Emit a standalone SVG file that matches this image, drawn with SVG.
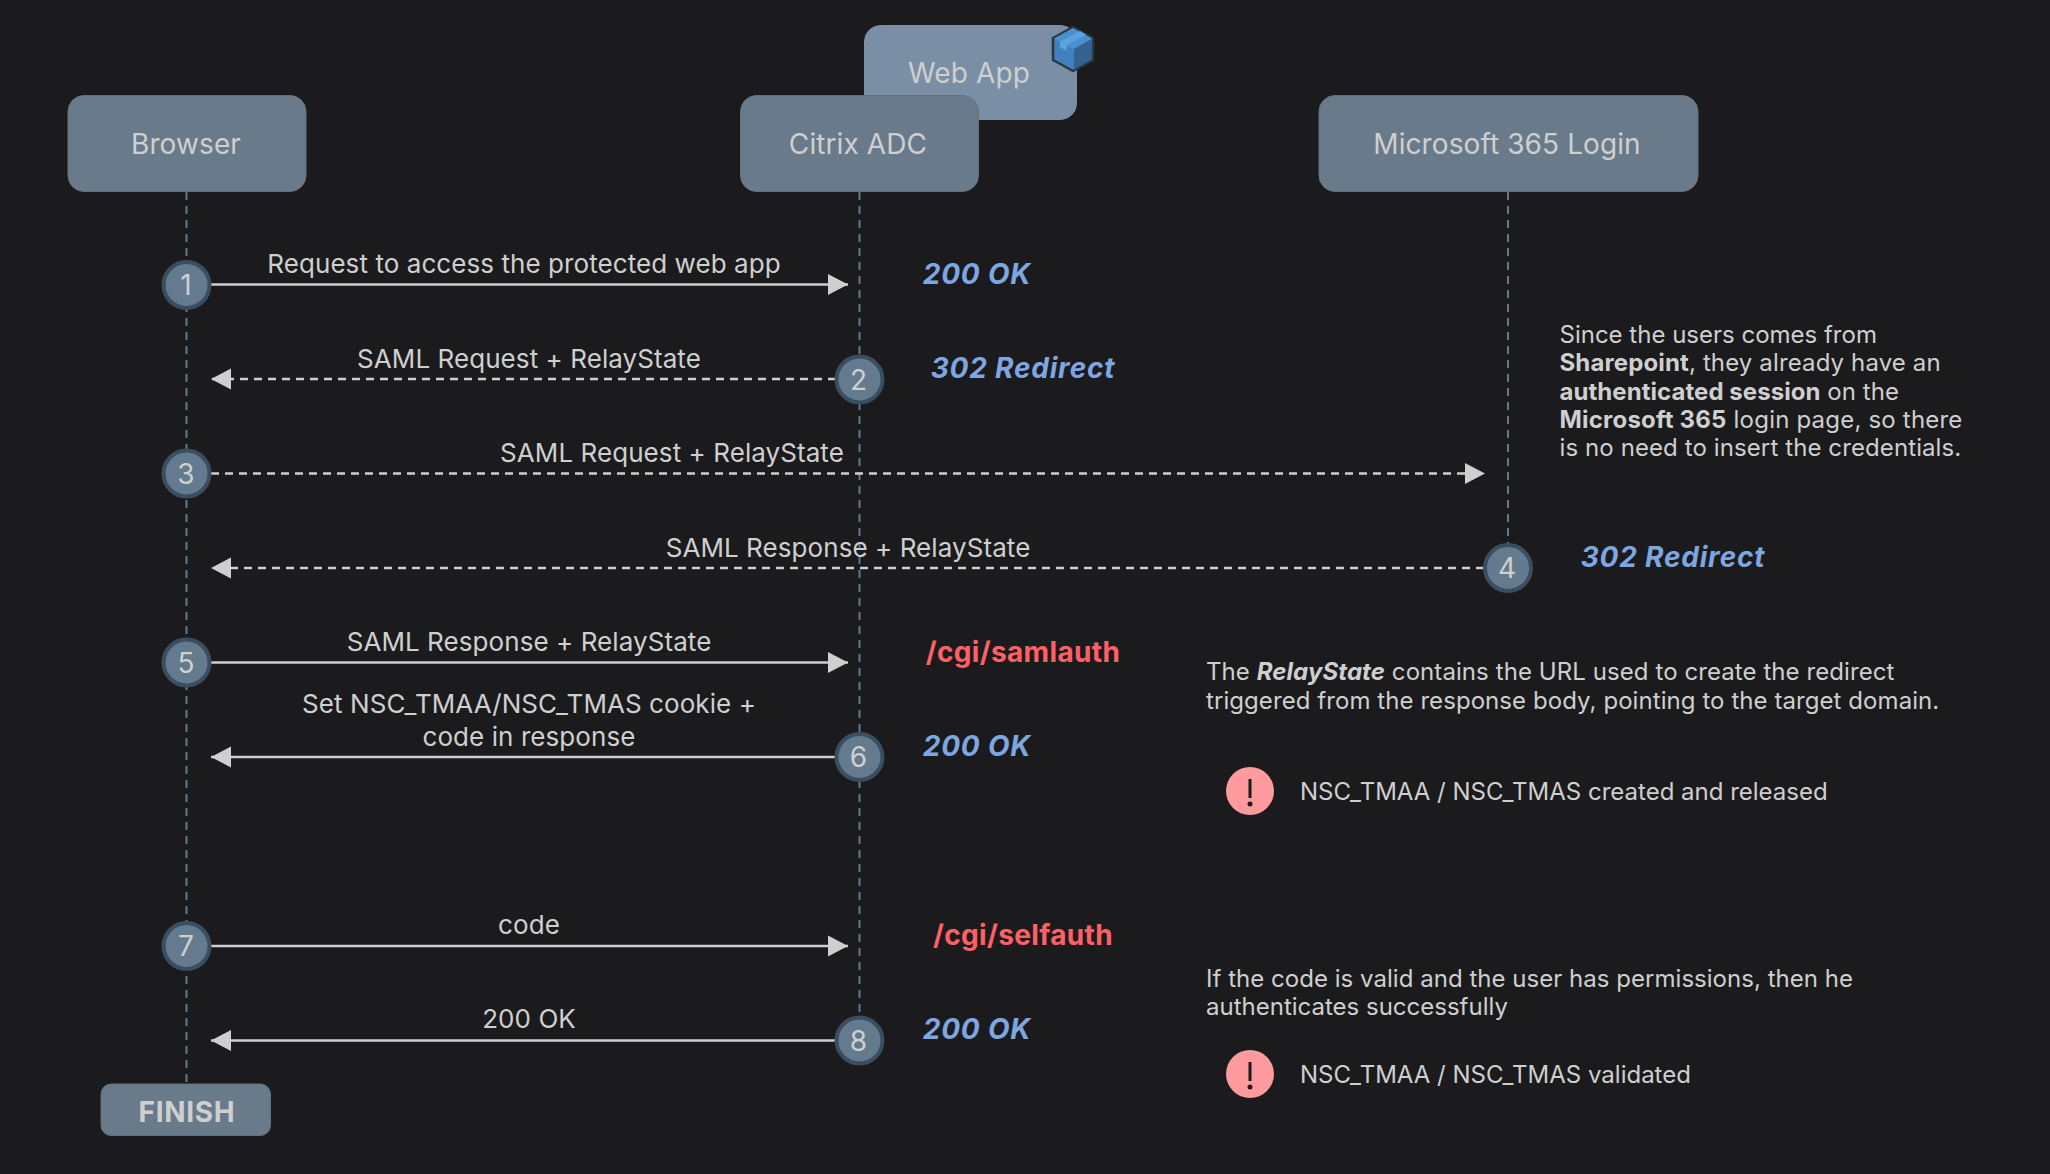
<svg xmlns="http://www.w3.org/2000/svg" width="2050" height="1174" viewBox="0 0 2050 1174">
<style>
text{font-family:Inter,"Liberation Sans",sans-serif;fill:#cfcfcf}
.box{fill:#697a8b;stroke:#61727f;stroke-width:1}
.h{font-size:28px;text-anchor:middle;letter-spacing:.1px}
.l{font-size:26px;text-anchor:middle;letter-spacing:.07px}
.n{font-size:28px;text-anchor:middle}
.life{stroke:#5f7890;stroke-width:2;stroke-dasharray:8 6;fill:none}
.c{stroke:#cfcfcf;stroke-width:2.5;fill:none}
.d{stroke-dasharray:8 6}
.dot{fill:#647a8e;stroke:#3a4e60;stroke-width:4}
.st{font-size:28px;font-weight:700;font-style:italic;fill:#7ea6e0;text-anchor:middle;letter-spacing:.8px}
.re{font-size:28px;font-weight:700;fill:#ff6066;text-anchor:middle;letter-spacing:.35px}
.p{font-size:24px}
.w{fill:#ff9a9f}
</style>
<defs>
<marker id="a" markerUnits="userSpaceOnUse" markerWidth="22" markerHeight="22" refX="20" refY="11" orient="auto"><path d="M0 0.5L20 11L0 21.5Z" fill="#cfcfcf"/></marker>
</defs>
<rect width="2050" height="1174" fill="#1b1b1e"/>
<g id="connectors">
<path class="life" d="M186.500 192V1084"/>
<path class="life" d="M859.500 192V1018"/>
<path class="life" d="M1508 192V545"/>
<path class="c" d="M211 284.500H848" marker-end="url(#a)"/>
<path class="c d" d="M836 379H211" marker-end="url(#a)"/>
<path class="c d" d="M211 473.500H1485" marker-end="url(#a)"/>
<path class="c d" d="M1484 568H211" marker-end="url(#a)"/>
<path class="c" d="M211 662.500H848" marker-end="url(#a)"/>
<path class="c" d="M836 757H211" marker-end="url(#a)"/>
<path class="c" d="M211 946H848" marker-end="url(#a)"/>
<path class="c" d="M836 1040.500H211" marker-end="url(#a)"/>
<text class="l" x="524" y="273">Request to access the protected web app</text>
<text class="l" x="529" y="368">SAML Request + RelayState</text>
<text class="l" x="672" y="462">SAML Request + RelayState</text>
<text class="l" x="848" y="556.500">SAML Response + RelayState</text>
<text class="l" x="529" y="651">SAML Response + RelayState</text>
<text class="l" x="529" y="713">Set NSC_TMAA/NSC_TMAS cookie +</text>
<text class="l" x="529" y="745.500">code in response</text>
<text class="l" x="529" y="934">code</text>
<text class="l" x="529" y="1028">200 OK</text>
</g>
<g id="webapp">
<rect class="box" style="fill:#7a8fa5;stroke:#7a8fa5" x="864.500" y="25.500" width="212" height="94" rx="16"/>
<text class="h" x="969" y="83">Web App</text>
<path d="M1073 27L1093 38V60L1073 71L1053 60V38Z" fill="#4180bd" stroke="#2a3640" stroke-width="2.500" stroke-linejoin="round"/>
<path d="M1074 49L1092 39V59L1074 70Z" fill="#33628f"/>
<path d="M1054 38.500L1073 28L1092 38.500L1073 49Z" fill="#4a8fd0"/>
<path d="M1060 42L1080 31L1086 34.500L1067 45V51L1060 47Z" fill="#5aa4de"/>
</g>
<g id="browser"><rect class="box" x="68" y="95.500" width="238" height="96" rx="16"/><text class="h" x="186" y="154">Browser</text></g>
<g id="citrix"><rect class="box" x="740.500" y="95.500" width="238" height="96" rx="16"/><text class="h" x="858" y="154">Citrix ADC</text></g>
<g id="ms365"><rect class="box" x="1319" y="95.500" width="379" height="96" rx="16"/><text class="h" x="1507" y="154">Microsoft 365 Login</text></g>
<g id="step1"><circle class="dot" cx="186.500" cy="285" r="23"/><text class="n" x="186" y="295">1</text></g>
<g id="step2"><circle class="dot" cx="859.500" cy="379.500" r="23"/><text class="n" x="858.500" y="389.500">2</text></g>
<g id="step3"><circle class="dot" cx="186.500" cy="473.500" r="23"/><text class="n" x="186" y="483.500">3</text></g>
<g id="step4"><circle class="dot" cx="1508" cy="568" r="23"/><text class="n" x="1507" y="578">4</text></g>
<g id="step5"><circle class="dot" cx="186.500" cy="662.500" r="23"/><text class="n" x="186" y="672.500">5</text></g>
<g id="step6"><circle class="dot" cx="859.500" cy="757" r="23"/><text class="n" x="858.500" y="767">6</text></g>
<g id="step7"><circle class="dot" cx="186.500" cy="946" r="23"/><text class="n" x="186" y="956">7</text></g>
<g id="step8"><circle class="dot" cx="859.500" cy="1040.500" r="23"/><text class="n" x="858.500" y="1050.500">8</text></g>
<g id="finish"><rect class="box" x="101" y="1084" width="169.500" height="51.500" rx="10"/><text x="187" y="1122" font-size="28" font-weight="700" text-anchor="middle" letter-spacing=".7">FINISH</text></g>
<g id="status">
<text class="st" x="977" y="284">200 OK</text>
<text class="st" x="1023" y="378">302 Redirect</text>
<text class="st" x="1673" y="567">302 Redirect</text>
<text class="re" x="1023" y="661.500">/cgi/samlauth</text>
<text class="st" x="977" y="756">200 OK</text>
<text class="re" x="1023" y="945">/cgi/selfauth</text>
<text class="st" x="977" y="1039">200 OK</text>
</g>
<g id="notes">
<text class="p" x="1559.500" y="343">Since the users comes from</text>
<text class="p" x="1559.500" y="371" letter-spacing=".13"><tspan font-weight="700">Sharepoint</tspan>, they already have an</text>
<text class="p" x="1559.500" y="400" letter-spacing=".05"><tspan font-weight="700">authenticated session</tspan> on the</text>
<text class="p" x="1559.500" y="428" letter-spacing=".2"><tspan font-weight="700">Microsoft 365</tspan> login page, so there</text>
<text class="p" x="1559.500" y="456" letter-spacing=".1">is no need to insert the credentials.</text>
<text class="p" x="1206" y="680" letter-spacing=".08">The <tspan font-weight="700" font-style="italic">RelayState</tspan> contains the URL used to create the redirect</text>
<text class="p" x="1206" y="709" letter-spacing=".07">triggered from the response body, pointing to the target domain.</text>
<text class="p" x="1300" y="800">NSC_TMAA / NSC_TMAS created and released</text>
<text class="p" x="1206" y="987" letter-spacing=".03">If the code is valid and the user has permissions, then he</text>
<text class="p" x="1206" y="1015">authenticates successfully</text>
<text class="p" x="1300" y="1083">NSC_TMAA / NSC_TMAS validated</text>
</g>
<g id="warn1"><circle class="w" cx="1250" cy="791" r="24"/><path d="M1250 779V798" stroke="#1b1b1e" stroke-width="3"/><circle cx="1250" cy="804" r="2.500" fill="#1b1b1e"/></g>
<g id="warn2"><circle class="w" cx="1250" cy="1074" r="24"/><path d="M1250 1062V1081" stroke="#1b1b1e" stroke-width="3"/><circle cx="1250" cy="1087" r="2.500" fill="#1b1b1e"/></g>
</svg>
